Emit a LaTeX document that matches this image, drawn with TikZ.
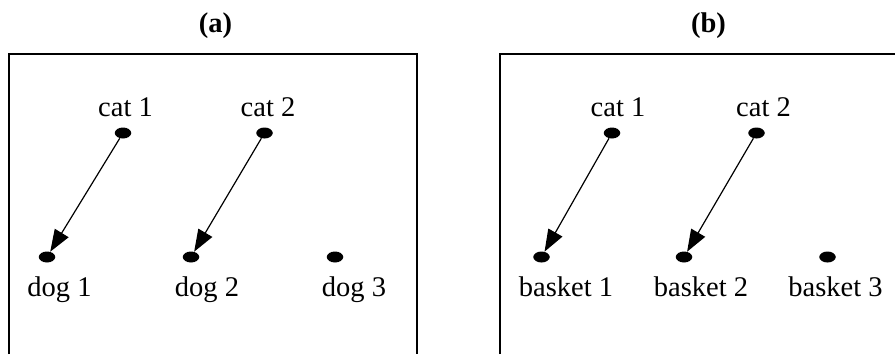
\documentclass[tikz,border=0pt]{standalone}
\usepackage{fontspec}
\setmainfont{Liberation Serif}
\usetikzlibrary{arrows.meta,shapes.geometric}
\tikzset{
  dot/.style={ellipse,fill=black,inner sep=0pt,minimum width=16.5pt,minimum height=11pt},
  lbl/.style={anchor=base,inner sep=0pt,font=\fontsize{28.5}{33}\selectfont},
  ttl/.style={anchor=base,inner sep=0pt,font=\fontsize{28.5}{33}\selectfont\bfseries},
  frame/.style={draw=black,line width=1.4pt},
  link/.style={draw=black,line width=1.2pt,-{Triangle[length=22pt,width=16pt]}}
}
\begin{document}
\begin{tikzpicture}[x=1pt,y=-1pt]
\useasboundingbox (0,0) rectangle (895,354);
% titles
\node[ttl] (ta) at (215.5,32) {(a)};
\node[ttl] (tb) at (708.5,32) {(b)};
% frames (open at bottom)
\draw[frame] (9,354) -- (9,54) -- (417,54) -- (417,354);
\draw[frame] (500,354) -- (500,54) -- (896,54);
% panel (a)
\node[dot] (ac1) at (123,133) {};
\node[dot] (ac2) at (264.5,133) {};
\node[dot] (ad1) at (47,257) {};
\node[dot] (ad2) at (191,257) {};
\node[dot] (ad3) at (335,257) {};
\node[lbl] (lac1) at (125.5,116) {cat 1};
\node[lbl] (lac2) at (268,116) {cat 2};
\node[lbl] (lad1) at (59.5,296.5) {dog 1};
\node[lbl] (lad2) at (207,296.5) {dog 2};
\node[lbl] (lad3) at (354,296.5) {dog 3};
\draw[link] (ac1) -- (ad1);
\draw[link] (ac2) -- (ad2);
% panel (b)
\node[dot] (bc1) at (612,133) {};
\node[dot] (bc2) at (756.5,133) {};
\node[dot] (bb1) at (541.5,257) {};
\node[dot] (bb2) at (684,257) {};
\node[dot] (bb3) at (827.5,257) {};
\node[lbl] (lbc1) at (618,116) {cat 1};
\node[lbl] (lbc2) at (763.5,116) {cat 2};
\node[lbl] (lbb1) at (566,296.5) {basket 1};
\node[lbl] (lbb2) at (701,296.5) {basket 2};
\node[lbl] (lbb3) at (835.5,296.5) {basket 3};
\draw[link] (bc1) -- (bb1);
\draw[link] (bc2) -- (bb2);
\end{tikzpicture}
\end{document}
